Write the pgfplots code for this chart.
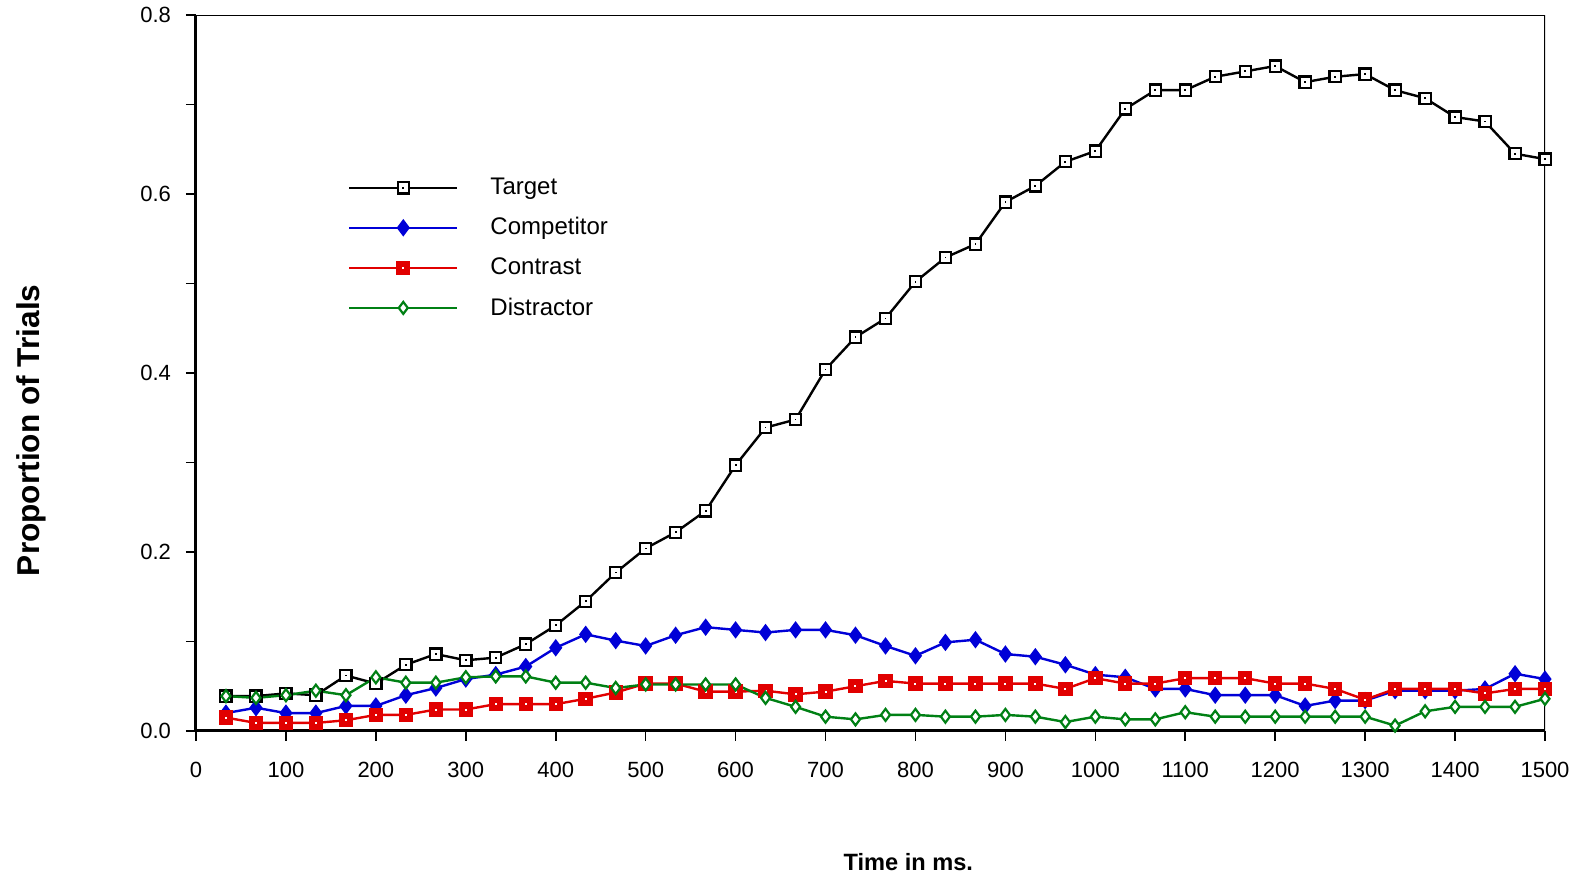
\documentclass[border=0pt]{standalone}
\usepackage{pgfplots}
\pgfplotsset{compat=1.18}
\usepackage{pgfplotstable}
\usepackage{fontspec}
\setmainfont{Liberation Sans}

\definecolor{tgt}{RGB}{0,0,0}
\definecolor{cmp}{RGB}{0,0,215}
\definecolor{ctr}{RGB}{225,0,0}
\definecolor{dst}{RGB}{0,128,20}

% square with a small dot in the middle
\pgfdeclareplotmark{sqdotk}{%
  \pgfpathrectangle{\pgfqpoint{-\pgfplotmarksize}{-\pgfplotmarksize}}{\pgfqpoint{2\pgfplotmarksize}{2\pgfplotmarksize}}%
  \pgfusepathqfillstroke
  \pgfscope
  \pgfpathrectangle{\pgfqpoint{-0.45pt}{-0.45pt}}{\pgfqpoint{0.9pt}{0.9pt}}%
  \pgfsetfillcolor{black}\pgfusepathqfill
  \endpgfscope}
\pgfdeclareplotmark{sqdotw}{%
  \pgfpathrectangle{\pgfqpoint{-\pgfplotmarksize}{-\pgfplotmarksize}}{\pgfqpoint{2\pgfplotmarksize}{2\pgfplotmarksize}}%
  \pgfusepathqfillstroke
  \pgfscope
  \pgfpathrectangle{\pgfqpoint{-0.5pt}{-0.5pt}}{\pgfqpoint{1pt}{1pt}}%
  \pgfsetfillcolor{white}\pgfusepathqfill
  \endpgfscope}

\pgfplotstableread{
x      target competitor contrast distractor
33.3   0.039  0.020  0.015  0.039
66.7   0.039  0.026  0.009  0.037
100    0.042  0.020  0.009  0.040
133.3  0.040  0.020  0.009  0.045
166.7  0.062  0.028  0.012  0.040
200    0.053  0.028  0.018  0.060
233.3  0.074  0.040  0.018  0.054
266.7  0.086  0.048  0.024  0.054
300    0.079  0.058  0.024  0.060
333.3  0.082  0.063  0.030  0.061
366.7  0.097  0.072  0.030  0.061
400    0.118  0.093  0.030  0.054
433.3  0.145  0.108  0.036  0.054
466.7  0.177  0.101  0.043  0.048
500    0.204  0.095  0.053  0.052
533.3  0.222  0.107  0.053  0.052
566.7  0.246  0.116  0.044  0.052
600    0.297  0.113  0.044  0.052
633.3  0.339  0.110  0.045  0.037
666.7  0.348  0.113  0.041  0.027
700    0.404  0.113  0.044  0.016
733.3  0.440  0.107  0.050  0.013
766.7  0.461  0.095  0.056  0.018
800    0.502  0.084  0.053  0.018
833.3  0.529  0.099  0.053  0.016
866.7  0.544  0.102  0.053  0.016
900    0.591  0.086  0.053  0.018
933.3  0.609  0.083  0.053  0.016
966.7  0.636  0.074  0.047  0.010
1000   0.648  0.063  0.059  0.016
1033.3 0.695  0.060  0.053  0.013
1066.7 0.716  0.047  0.053  0.013
1100   0.716  0.047  0.059  0.021
1133.3 0.731  0.040  0.059  0.016
1166.7 0.737  0.040  0.059  0.016
1200   0.743  0.040  0.053  0.016
1233.3 0.725  0.028  0.053  0.016
1266.7 0.731  0.034  0.047  0.016
1300   0.734  0.034  0.035  0.016
1333.3 0.716  0.045  0.047  0.006
1366.7 0.707  0.045  0.047  0.022
1400   0.686  0.045  0.047  0.027
1433.3 0.681  0.047  0.042  0.027
1466.7 0.645  0.064  0.047  0.027
1500   0.639  0.058  0.047  0.036
}\trials

\begin{document}
\begin{tikzpicture}
  \useasboundingbox (-98pt,-73.5pt) rectangle (689.5pt,365.5pt);
  \begin{axis}[
      at={(0,0)}, anchor=south west,
      scale only axis,
      width=674.5pt, height=358pt,
      xmin=0, xmax=1500, ymin=0, ymax=0.8,
      axis x line*=bottom, axis y line*=left,
      axis line style={line width=1.5pt},
      xtick={0,100,...,1500},
      ytick={0,0.2,...,0.8},
      minor ytick={0.1,0.3,0.5,0.7},
      tick align=outside,
      major tick length=5pt, minor tick length=5pt,
      every tick/.style={black, line width=0.8pt},
      minor tick style={black, line width=0.8pt},
      /pgf/number format/assume math mode=true,
      xticklabel style={/pgf/number format/1000 sep={}, font=\fontsize{11}{13}\selectfont,
        yshift=-7pt},
      yticklabel style={/pgf/number format/fixed, /pgf/number format/fixed zerofill,
        /pgf/number format/precision=1, font=\fontsize{11}{13}\selectfont, xshift=-4pt},
      xlabel={Time in ms.},
      ylabel={Proportion of Trials},
      xlabel style={font=\fontsize{11.8}{14}\selectfont\bfseries,
        at={(axis description cs:0.528,-0.183)}, anchor=center},
      ylabel style={font=\fontsize{15.8}{18}\selectfont\bfseries,
        at={(axis description cs:-0.122,0.42)}, anchor=center},
      every axis plot/.append style={line width=1.2pt},
      legend image code/.code={%
        \draw[mark repeat=2, mark phase=2, #1]
          plot coordinates {(0pt,0pt) (27pt,0pt) (54pt,0pt)};},
      legend cell align=left,
      legend style={at={(0.108,0.784)}, anchor=north west, draw=none, fill=none,
        font=\fontsize{12}{14}\selectfont, row sep=6pt,
        /tikz/every odd column/.append style={column sep=14pt}},
    ]
    \addplot[tgt, mark=sqdotk, mark size=2.8pt,
      mark options={fill=white, line width=1.1pt}] table[x=x, y=target] {\trials};
    \addlegendentry{Target}
    \addplot[cmp, mark=diamond*, mark size=3.4pt,
      mark options={fill=cmp}] table[x=x, y=competitor] {\trials};
    \addlegendentry{Competitor}
    \addplot[ctr, mark=sqdotw, mark size=3pt,
      mark options={fill=ctr}] table[x=x, y=contrast] {\trials};
    \addlegendentry{Contrast}
    \addplot[dst, mark=diamond*, mark size=3pt,
      mark options={fill=white, line width=1.1pt}] table[x=x, y=distractor] {\trials};
    \addlegendentry{Distractor}
    \draw[line width=1pt] (rel axis cs:0,1) -- (rel axis cs:1,1) -- (rel axis cs:1,0);
  \end{axis}
\end{tikzpicture}
\end{document}
